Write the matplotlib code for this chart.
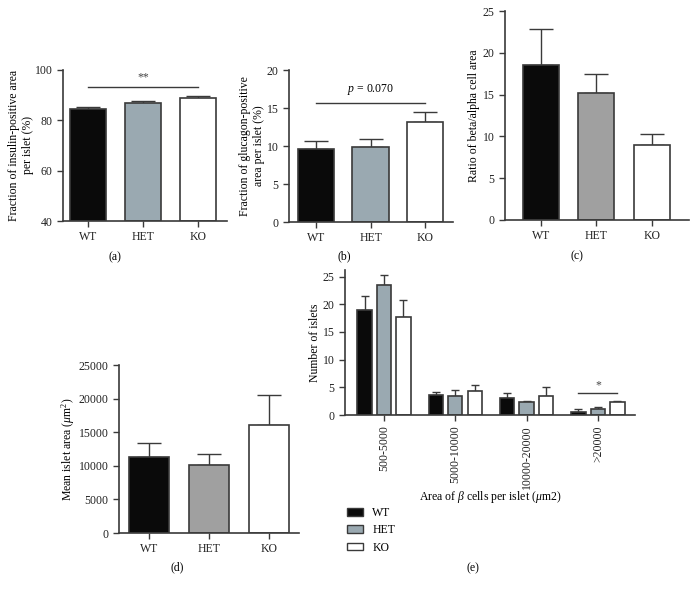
import matplotlib
matplotlib.use("Agg")
import matplotlib.pyplot as plt
import matplotlib.patches as mpatches
import numpy as np

plt.rcParams['font.family'] = ['Liberation Serif', 'DejaVu Serif']
plt.rcParams['mathtext.fontset'] = 'custom'
plt.rcParams['mathtext.rm'] = 'Liberation Serif'
plt.rcParams['mathtext.it'] = 'Liberation Serif:italic'

groups = ["WT", "HET", "KO"]

# (a) insulin-positive fraction
a_mean = [84.5, 87.0, 88.7]
a_sem = [0.7, 0.8, 1.0]
# (b) glucagon-positive fraction
b_mean = [9.6, 9.9, 13.1]
b_sem = [1.0, 1.0, 1.4]
# (c) beta/alpha ratio
c_mean = [18.5, 15.2, 9.0]
c_sem = [4.3, 2.3, 1.3]
# (d) mean islet area
d_mean = [11300, 10050, 16100]
d_sem = [2100, 1750, 4500]
# (e) islet size distribution
e_bins = ["500-5000", "5000-10000", "10000-20000", ">20000"]
e_wt = [19.0, 3.7, 3.1, 0.6]
e_wt_sem = [2.5, 0.4, 0.8, 0.4]
e_het = [23.4, 3.5, 2.3, 1.1]
e_het_sem = [1.9, 1.0, 0.3, 0.4]
e_ko = [17.7, 4.3, 3.4, 2.3]
e_ko_sem = [3.0, 1.2, 1.7, 0.3]

W, H = 697, 590
fig = plt.figure(figsize=(W / 100, H / 100), dpi=100)

EDGE = '#3a3a3a'
BLACK = '#0a0a0a'
BLUEGRAY = '#9aa9b1'
GRAY = '#a0a0a0'
FS = 8.5


def ax_px(left, right, top, bottom):
    return fig.add_axes([left / W, 1 - bottom / H, (right - left) / W, (bottom - top) / H])


def style(ax):
    for s in ['top', 'right']:
        ax.spines[s].set_visible(False)
    for s in ['left', 'bottom']:
        ax.spines[s].set_linewidth(1.2)
        ax.spines[s].set_color(EDGE)
    ax.tick_params(axis='both', direction='out', length=4, width=1.0, color=EDGE,
                   labelsize=FS, labelcolor='#222222')


def bars3(ax, means, sems, colors, width, base=0):
    x = np.arange(len(means))
    ax.bar(x, np.array(means) - base, bottom=base, width=width, color=colors,
           edgecolor=EDGE, linewidth=1.2, zorder=2)
    ax.errorbar(x, means, yerr=[np.zeros(len(sems)), sems], fmt='none',
                ecolor=EDGE, elinewidth=1.0, capsize=width * 13, capthick=1.0, zorder=1)
    ax.set_xticks(x)
    ax.set_xticklabels(groups)


# (a)
ax = ax_px(63, 227, 70, 221)
style(ax)
bars3(ax, a_mean, a_sem, [BLACK, BLUEGRAY, 'white'], 0.65, base=40)
ax.set_ylim(40, 100)
ax.set_yticks([40, 60, 80, 100])
ax.set_xlim(-0.45, 2.53)
ax.set_ylabel("Fraction of insulin-positive area\nper islet (%)", fontsize=FS, labelpad=0.5)
ax.plot([0, 2], [93.2, 93.2], color=EDGE, lw=1.0)
ax.text(1, 94.5, "**", ha='center', va='bottom', fontsize=FS, color='#444444')
fig.text(115 / W, 1 - 257 / H, "(a)", ha='center', va='center', fontsize=FS)

# (b)
ax = ax_px(289, 453, 70, 222)
style(ax)
bars3(ax, b_mean, b_sem, [BLACK, BLUEGRAY, 'white'], 0.67)
ax.set_ylim(0, 20)
ax.set_yticks([0, 5, 10, 15, 20])
ax.set_xlim(-0.5, 2.51)
ax.set_ylabel("Fraction of glucagon-positive\narea per islet (%)", fontsize=FS, labelpad=1.5)
ax.plot([0, 2], [15.7, 15.7], color=EDGE, lw=1.0)
ax.text(1, 16.4, "$p$ = 0.070", ha='center', va='bottom', fontsize=FS)
fig.text(344 / W, 1 - 256 / H, "(b)", ha='center', va='center', fontsize=FS)

# (c)
ax = ax_px(505, 689, 11, 220)
style(ax)
bars3(ax, c_mean, c_sem, [BLACK, GRAY, 'white'], 0.65)
ax.set_ylim(0, 25)
ax.set_yticks([0, 5, 10, 15, 20, 25])
ax.set_xlim(-0.65, 2.67)
ax.set_ylabel("Ratio of beta/alpha cell area", fontsize=FS, labelpad=2)
fig.text(577 / W, 1 - 256 / H, "(c)", ha='center', va='center', fontsize=FS)

# (d)
ax = ax_px(119, 299, 365, 533)
style(ax)
bars3(ax, d_mean, d_sem, [BLACK, GRAY, 'white'], 0.67)
ax.set_ylim(0, 25000)
ax.set_yticks([0, 5000, 10000, 15000, 20000, 25000])
ax.set_xlim(-0.5, 2.5)
ax.set_ylabel("Mean islet area ($\\mu$m$^2$)", fontsize=FS, labelpad=1)
fig.text(177 / W, 1 - 567 / H, "(d)", ha='center', va='center', fontsize=FS)

# (e)
ax = ax_px(345, 635, 270, 415)
style(ax)
x = np.arange(len(e_bins))
off = 0.273
bw = 0.2
for vals, sems, col, dx in [(e_wt, e_wt_sem, BLACK, -off),
                            (e_het, e_het_sem, BLUEGRAY, 0),
                            (e_ko, e_ko_sem, 'white', off)]:
    ax.bar(x + dx, vals, width=bw, color=col, edgecolor=EDGE, linewidth=1.2, zorder=2)
    ax.errorbar(x + dx, vals, yerr=[np.zeros(len(sems)), sems], fmt='none',
                ecolor=EDGE, elinewidth=1.0, capsize=3, capthick=1.0, zorder=1)
ax.set_xticks(x)
ax.set_xticklabels(e_bins, rotation=90)
ax.set_ylim(0, 26.2)
ax.set_yticks([0, 5, 10, 15, 20, 25])
ax.set_xlim(-0.547, 3.52)
ax.set_ylabel("Number of islets", fontsize=FS, labelpad=1)
ax.set_xlabel("Area of $\\beta$ cells per islet ($\\mu$m2)", fontsize=FS, labelpad=0)
ax.plot([3 - off, 3 + off], [4.05, 4.05], color=EDGE, lw=1.0)
ax.text(3, 4.3, "*", ha='center', va='bottom', fontsize=FS, color='#444444')

handles = [mpatches.Patch(facecolor=BLACK, edgecolor=EDGE, label='WT'),
           mpatches.Patch(facecolor=BLUEGRAY, edgecolor=EDGE, label='HET'),
           mpatches.Patch(facecolor='white', edgecolor=EDGE, label='KO')]
fig.legend(handles=handles, loc='upper left', bbox_to_anchor=(347 / W, 1 - 507 / H),
           frameon=False, fontsize=FS, handlelength=1.35, handleheight=0.65,
           labelspacing=0.45, handletextpad=0.8, borderaxespad=0, borderpad=0)
fig.text(473 / W, 1 - 568 / H, "(e)", ha='center', va='center', fontsize=FS)

fig.savefig("out.png", dpi=100)
